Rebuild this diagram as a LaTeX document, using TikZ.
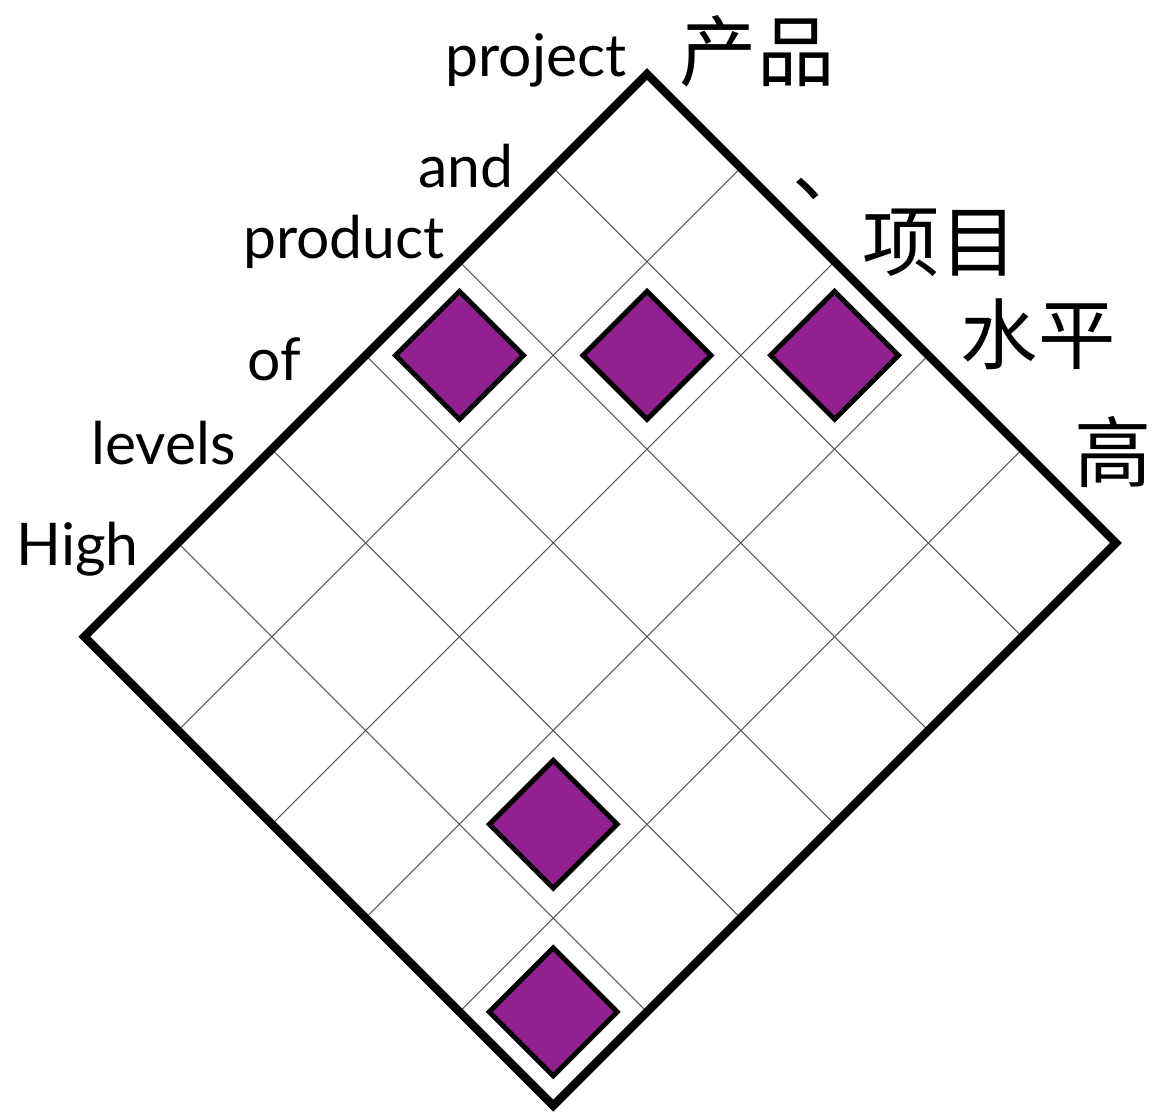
\documentclass[tikz,border=0pt]{standalone}
\usepackage{fontspec}
\setmainfont{Lato}
\newfontfamily\cjk{Noto Sans CJK SC}
\usetikzlibrary{shapes.geometric}
\definecolor{lilas}{RGB}{146,32,142}

\begin{document}
\begin{tikzpicture}[x=0.02cm,y=-0.02cm,
  palabra/.style={font=\fontsize{33.5}{40}\selectfont,anchor=base east,inner sep=0pt},
  hanzi/.style={font=\cjk\fontsize{44}{52}\selectfont,inner sep=0pt},
  linea/.style={draw=black!65,line width=0.6pt},
  marco/.style={draw=black,line width=4.8pt},
  celda/.style={diamond,draw=black,line width=2.8pt,fill=lilas,minimum size=2.6cm,inner sep=0pt}
  ]

  \useasboundingbox (0,0) rectangle (1162,1117);

  \begin{scope}[shift={(647,74)},x={(-1.876cm,-1.876cm)},y={(1.876cm,-1.876cm)}]
    \coordinate (arriba) at (0,0);
    \coordinate (izq) at (6,0);
    \coordinate (abajo) at (6,5);
    \coordinate (der) at (0,5);
    \foreach \i in {1,...,5}
      \draw[linea] (\i,0) -- (\i,5);
    \foreach \j in {1,...,4}
      \draw[linea] (0,\j) -- (6,\j);
    \draw[marco] (arriba) -- (izq) -- (abajo) -- (der) -- cycle;
    \foreach \i/\j in {2/0,1/1,0/2,4/3,5/4}
      \node[celda] (c\i\j) at (\i+.5,\j+.5) {};
  \end{scope}

  \node[palabra] (project) at (627,76) {project};
  \node[palabra] (and) at (514,187) {and};
  \node[palabra] (product) at (445,258) {product};
  \node[palabra] (of) at (301,380) {of};
  \node[palabra] (levels) at (236,464) {levels};
  \node[palabra] (high) at (139,565) {High};

  \node[hanzi] (chanpin) at (757,51) {产品};
  \node[hanzi] (dun) at (831,189) {、};
  \node[hanzi] (xiangmu) at (940,243) {项目};
  \node[hanzi] (shuiping) at (1038,334) {水平};
  \node[hanzi] (gao) at (1113,452) {高};

\end{tikzpicture}
\end{document}
